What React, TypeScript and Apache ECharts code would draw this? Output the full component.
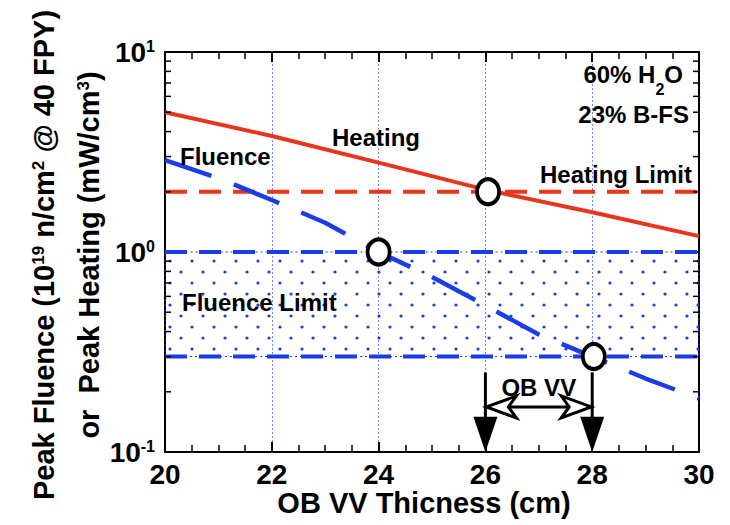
import React, { useEffect, useRef } from 'react';
import * as echarts from 'echarts';

// ---- data ----
const xRange = [20, 30];
const xInterval = 2;
const yRange = [0.1, 10];
const heatingX = [20, 22, 24, 26, 28, 30];
const heating = [5.0, 3.8, 2.8, 2.05, 1.58, 1.2];
const fluenceX = [20, 21, 22, 23, 24, 25, 26, 27, 28, 29, 30];
const fluence = [2.88, 2.34, 1.82, 1.4, 1.0, 0.75, 0.54, 0.387, 0.3, 0.233, 0.185];
const heatingLimit = 2.0;
const fluenceLimit = [0.3, 1.0];
const crossX = [24, 26.05, 28.03];
const crossY = [1.0, 2.0, 0.3];
const obvvSpan = [26, 28];
const obvvLineTop = 0.25;
const obvvArrowLevel = 0.168;
const obvvHeadBase = 0.15;
const obvvLabelLevel = 0.209;
const yMinorTicks = [0.2, 0.3, 0.4, 0.5, 0.6, 0.7, 0.8, 0.9, 2, 3, 4, 5, 6, 7, 8, 9];

const RED = '#e8351c';
const BLUE = '#1b3de8';
const GRIDBLUE = '#6f86ff';
const FONT = '"Liberation Sans", Arial, sans-serif';

function makeDots(): string {
  const c = document.createElement('canvas');
  c.width = 22;
  c.height = 22;
  const g = c.getContext('2d');
  if (g) {
    g.fillStyle = BLUE;
    [[5, 8], [16, 19]].forEach(([x, y]) => {
      g.beginPath();
      g.arc(x, y, 1.6, 0, Math.PI * 2);
      g.fill();
    });
  }
  return c.toDataURL();
}

function tok(size: number, extra: any = {}) {
  return { fontSize: size, fontWeight: 'bold', fontFamily: FONT, lineHeight: size, verticalAlign: 'top', color: '#000', ...extra };
}

function label(text: string, x: number, y: number, align: string, size = 24) {
  return {
    type: 'text',
    x,
    y,
    silent: true,
    z: 50,
    style: { text, fontSize: size, fontWeight: 'bold', fontFamily: FONT, fill: '#000', align, verticalAlign: 'middle' },
  };
}

export default function App() {
  const ref = useRef<HTMLDivElement>(null);
  useEffect(() => {
    if (!ref.current) return;
    const chart = echarts.init(ref.current, null, { renderer: 'svg' });
    const dots = makeDots();
    const axisLineStyle = { color: '#000', width: 2 };
    const xAxisBase = {
      type: 'value',
      min: xRange[0],
      max: xRange[1],
      interval: xInterval,
      axisLine: { show: true, onZero: false, lineStyle: axisLineStyle },
      axisTick: { show: true, inside: true, length: 10, lineStyle: { color: '#000', width: 2 } },
      minorTick: { show: true, splitNumber: 4, length: 7, lineStyle: { color: '#000', width: 1.5 } },
    };
    const yAxisBase = {
      type: 'log',
      logBase: 10,
      min: yRange[0],
      max: yRange[1],
      axisLine: { show: true, onZero: false, lineStyle: axisLineStyle },
      axisTick: { show: true, inside: true, length: 10, lineStyle: { color: '#000', width: 2 } },
      minorTick: { show: false },
      splitLine: { show: false },
    };
    const option: any = {
      animation: false,
      backgroundColor: '#fff',
      grid: { left: 165, right: 31, top: 52, bottom: 73, containLabel: false },
      xAxis: [
        {
          ...xAxisBase,
          position: 'bottom',
          axisLabel: { show: true, fontSize: 28, fontWeight: 'bold', fontFamily: FONT, color: '#000', margin: 8 },
          splitLine: { show: true, lineStyle: { color: GRIDBLUE, width: 1, type: [2, 2] } },
        },
        {
          ...xAxisBase,
          position: 'top',
          axisLabel: { show: false },
          splitLine: { show: false },
        },
      ],
      yAxis: [
        {
          ...yAxisBase,
          position: 'left',
          axisLabel: {
            show: true,
            margin: 10,
            formatter: (v: number) => `{b|10}{s|${Math.round(Math.log10(v))}}`,
            rich: { b: tok(28), s: tok(16) },
          },
        },
        {
          ...yAxisBase,
          position: 'right',
          axisLabel: { show: false },
        },
      ],
      series: [
        {
          name: 'Fluence Limit Low',
          type: 'line',
          symbol: 'none',
          z: 2,
          data: [[xRange[0], fluenceLimit[0]], [xRange[1], fluenceLimit[0]]],
          lineStyle: { color: BLUE, width: 4, type: [22, 12], cap: 'butt' },
          markArea: {
            silent: true,
            label: { show: false },
            itemStyle: {
              color: { image: dots, repeat: 'repeat', imageWidth: 22, imageHeight: 22 },
              borderColor: BLUE,
              borderWidth: 1,
              borderType: [2, 3],
            },
            data: [[{ xAxis: xRange[0], yAxis: fluenceLimit[0] }, { xAxis: xRange[1], yAxis: fluenceLimit[1] }]],
          },
        },
        {
          name: 'Fluence Limit High',
          type: 'line',
          symbol: 'none',
          z: 2,
          data: [[xRange[0], fluenceLimit[1]], [xRange[1], fluenceLimit[1]]],
          lineStyle: { color: BLUE, width: 4, type: [22, 12], cap: 'butt' },
        },
        {
          name: 'Heating Limit',
          type: 'line',
          symbol: 'none',
          z: 2,
          data: [[xRange[0], heatingLimit], [xRange[1], heatingLimit]],
          lineStyle: { color: RED, width: 4, type: [22, 12], cap: 'butt' },
        },
        {
          name: 'Heating',
          type: 'line',
          symbol: 'none',
          z: 3,
          data: heatingX.map((x, i) => [x, heating[i]]),
          lineStyle: { color: RED, width: 4 },
        },
        {
          name: 'Fluence',
          type: 'line',
          symbol: 'none',
          z: 3,
          data: fluenceX.map((x, i) => [x, fluence[i]]),
          lineStyle: { color: BLUE, width: 4.5, type: [49, 24], cap: 'butt' },
        },
        {
          name: 'Crossings',
          type: 'scatter',
          z: 5,
          symbol: 'circle',
          symbolSize: [22, 25],
          itemStyle: { color: '#fff', borderColor: '#000', borderWidth: 4, opacity: 1 },
          data: crossX.map((x, i) => [x, crossY[i]]),
        },
        {
          name: 'YMinorTicks',
          type: 'custom',
          z: 6,
          silent: true,
          clip: false,
          data: yMinorTicks.map((v) => [xRange[0], v]),
          encode: { x: 0, y: 1 },
          renderItem: (params: any, api: any) => {
            const v = api.value(1);
            const p = api.coord([xRange[0], v]);
            const q = api.coord([xRange[1], v]);
            return {
              type: 'group',
              children: [
                { type: 'line', shape: { x1: p[0], y1: p[1], x2: p[0] + 6, y2: p[1] }, style: { stroke: '#000', lineWidth: 1.5 } },
                { type: 'line', shape: { x1: q[0] - 6, y1: q[1], x2: q[0], y2: q[1] }, style: { stroke: '#000', lineWidth: 1.5 } },
              ],
            };
          },
        },
        {
          name: 'OBVV',
          type: 'custom',
          z: 7,
          silent: true,
          clip: false,
          data: [[obvvSpan[0], obvvArrowLevel, obvvSpan[1]]],
          encode: { x: [0, 2], y: 1 },
          renderItem: (params: any, api: any) => {
            const x1 = api.value(0);
            const x2 = api.value(2);
            const lvl = api.value(1);
            const a = api.coord([x1, obvvLineTop]);
            const b = api.coord([x2, obvvLineTop]);
            const headY = api.coord([x1, obvvHeadBase])[1];
            const baseY = api.coord([x1, yRange[0]])[1];
            const midY = api.coord([x1, lvl])[1];
            const lab = api.coord([(x1 + x2) / 2, obvvLabelLevel]);
            const ax = a[0];
            const bx = b[0];
            const black = { stroke: '#000', lineWidth: 3 };
            return {
              type: 'group',
              children: [
                { type: 'line', shape: { x1: ax, y1: a[1], x2: ax, y2: headY + 2 }, style: black },
                { type: 'line', shape: { x1: bx, y1: b[1], x2: bx, y2: headY + 2 }, style: black },
                { type: 'polygon', shape: { points: [[ax - 12, headY], [ax + 12, headY], [ax, baseY]] }, style: { fill: '#000' } },
                { type: 'polygon', shape: { points: [[bx - 12, headY], [bx + 12, headY], [bx, baseY]] }, style: { fill: '#000' } },
                { type: 'line', shape: { x1: ax + 22, y1: midY, x2: bx - 22, y2: midY }, style: black },
                {
                  type: 'polygon',
                  shape: { points: [[ax + 1, midY], [ax + 31, midY - 11], [ax + 23, midY], [ax + 31, midY + 11]] },
                  style: { fill: '#fff', stroke: '#000', lineWidth: 3, lineJoin: 'miter' },
                },
                {
                  type: 'polygon',
                  shape: { points: [[bx - 1, midY], [bx - 31, midY - 11], [bx - 23, midY], [bx - 31, midY + 11]] },
                  style: { fill: '#fff', stroke: '#000', lineWidth: 3, lineJoin: 'miter' },
                },
                {
                  type: 'text',
                  style: {
                    text: 'OB VV',
                    x: lab[0],
                    y: lab[1],
                    fontSize: 24,
                    fontWeight: 'bold',
                    fontFamily: FONT,
                    fill: '#000',
                    align: 'center',
                    verticalAlign: 'middle',
                  },
                },
              ],
            };
          },
        },
      ],
      graphic: [
        label('Heating', 332, 137, 'left'),
        label('Fluence', 180, 156, 'left'),
        label('Heating Limit', 692, 174, 'right'),
        label('23% B-FS', 689, 114, 'right'),
        label('Fluence Limit', 182, 302, 'left'),
        {
          type: 'text',
          x: 683,
          y: 62,
          silent: true,
          z: 50,
          style: {
            text: '{m|60% H}{sub|2}{m|O}',
            align: 'right',
            verticalAlign: 'top',
            rich: { m: tok(24), sub: tok(16, { padding: [19, 0, 0, 0] }) },
          },
        },
        label('OB VV Thicness (cm)', 424, 503, 'center', 29),
        {
          type: 'text',
          x: 44,
          y: 255,
          rotation: Math.PI / 2,
          silent: true,
          z: 50,
          style: {
            text: '{m|Peak Fluence (10}{s|19}{m| n/cm}{s|2}{m| @ 40 FPY)}',
            align: 'center',
            verticalAlign: 'middle',
            rich: { m: tok(29), s: tok(17) },
          },
        },
        {
          type: 'text',
          x: 89,
          y: 255,
          rotation: Math.PI / 2,
          silent: true,
          z: 50,
          style: {
            text: '{m|or  Peak Heating (mW/cm}{s|3}{m|)}',
            align: 'center',
            verticalAlign: 'middle',
            rich: { m: tok(29), s: tok(17) },
          },
        },
      ],
    };
    chart.setOption(option);
    return () => chart.dispose();
  }, []);
  return <div ref={ref} style={{ position: 'absolute', left: 0, top: 0, width: 730, height: 525 }} />;
}
